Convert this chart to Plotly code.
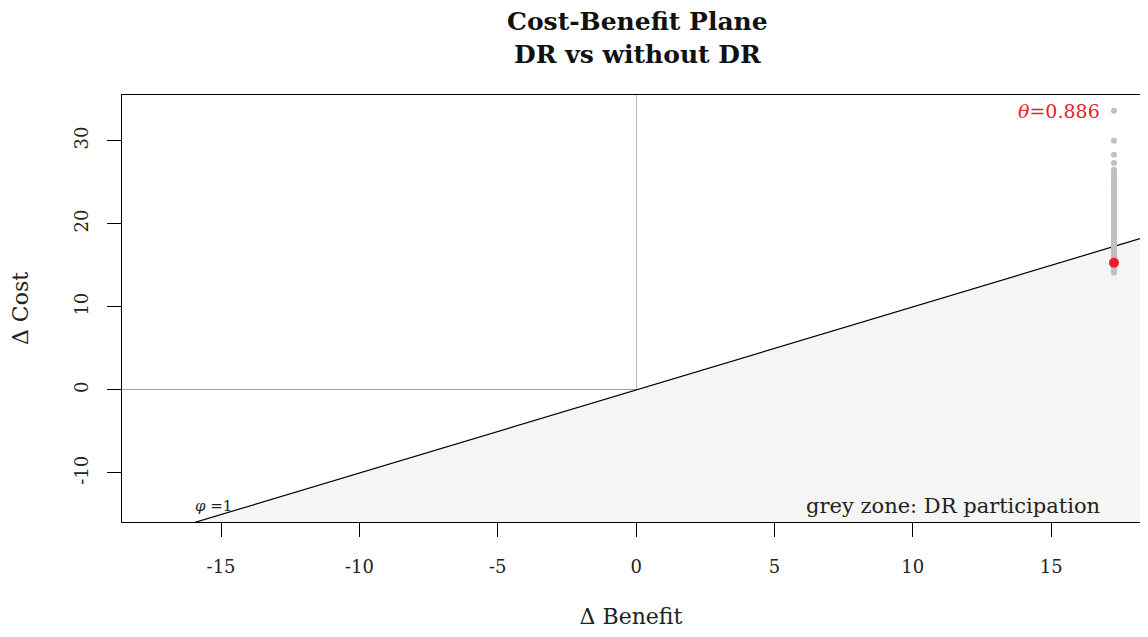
import plotly.graph_objects as go

# incremental benefit / cost draws (DR vs without DR)
d_benefit = 17.27
d_cost = [33.6, 30.0, 28.3, 27.3, 26.5, 26.2, 25.9, 25.6, 25.4, 25.1, 24.9, 24.6,
          24.4, 24.2, 23.9, 23.7, 23.5, 23.3, 23.1, 22.9, 22.7, 22.5, 22.3, 22.1,
          21.9, 21.7, 21.5, 21.3, 21.1, 20.9, 20.7, 20.5, 20.3, 20.1, 19.9, 19.7,
          19.5, 19.3, 19.1, 18.9, 18.7, 18.5, 18.3, 18.1, 17.9, 17.7, 17.5, 17.3,
          17.1, 16.9, 16.7, 16.5, 16.3, 16.1, 15.9, 15.7, 15.5, 15.3, 15.1, 14.9,
          14.7, 14.5, 14.3, 14.1, 16.0, 16.4, 16.8, 17.2, 17.6, 18.0, 18.4, 15.6,
          15.2, 14.8, 14.4, 19.0, 19.6, 20.2, 20.8, 21.4, 22.0, 22.6, 23.4, 24.0]
mean_benefit = 17.27
mean_cost = 15.3
theta = 0.886
phi = 1

xr = [-18.58, 18.21]
yr = [-15.9, 35.5]

SERIF = "DejaVu Serif"
RED = "#e8202a"

fig = go.Figure()

# grey zone below the threshold line
x_cut = yr[0] / phi
fig.add_trace(go.Scatter(
    x=[x_cut, xr[1], xr[1]], y=[yr[0], phi * xr[1], yr[0]],
    fill="toself", fillcolor="#f5f5f3", line=dict(width=0),
    mode="lines", hoverinfo="skip", showlegend=False))

fig.add_trace(go.Scatter(
    x=xr, y=[phi * v for v in xr], mode="lines",
    line=dict(color="black", width=1.2), showlegend=False))

fig.add_trace(go.Scatter(
    x=[d_benefit] * len(d_cost), y=d_cost, mode="markers",
    marker=dict(color="#c0c0c0", size=6), showlegend=False))

fig.add_trace(go.Scatter(
    x=[mean_benefit], y=[mean_cost], mode="markers",
    marker=dict(color=RED, size=10), showlegend=False))

fig.add_annotation(x=d_benefit - 0.45, y=max(d_cost), text="<i>θ</i>=" + f"{theta:.3f}",
                   showarrow=False, xanchor="right", yanchor="middle",
                   font=dict(family=SERIF, size=19, color=RED))
fig.add_annotation(x=-16.0, y=yr[0] + 0.6, text="<i>φ</i> =1", showarrow=False,
                   xanchor="left", yanchor="bottom",
                   font=dict(family=SERIF, size=15, color="#222"))
fig.add_annotation(x=16.84, y=yr[0] + 0.3, text="grey zone: DR participation",
                   showarrow=False, xanchor="right", yanchor="bottom",
                   font=dict(family=SERIF, size=21, color="#222"))

# two-line bold title
for txt, yy in [("Cost-Benefit Plane", 1.171), ("DR vs without DR", 1.096)]:
    fig.add_annotation(x=0.05, xref="x", y=yy, yref="paper", text="<b>" + txt + "</b>",
                       showarrow=False, xanchor="center", yanchor="middle",
                       font=dict(family=SERIF, size=25, color="#111"))

fig.update_layout(
    width=1132, height=621,
    margin=dict(l=114, r=0, t=87, b=107, autoexpand=False),
    plot_bgcolor="white", paper_bgcolor="white",
    font=dict(family=SERIF, size=18, color="#222"),
)
fig.update_xaxes(range=xr, tickvals=[-15, -10, -5, 0, 5, 10, 15],
                 ticktext=["-15", "-10", "-5", "0", "5", "10", "15"],
                 showgrid=False, zeroline=True, zerolinecolor="#bcbcbc", zerolinewidth=1,
                 showline=True, linecolor="black", linewidth=1, mirror=True,
                 ticks="outside", ticklen=14, tickcolor="black",
                 ticklabelstandoff=14, automargin=False,
                 title=dict(text="Δ Benefit", standoff=36))
fig.update_yaxes(range=yr, tickvals=[-10, 0, 10, 20, 30],
                 ticktext=["-10", "0", "10", "20", "30"], tickangle=-90,
                 showgrid=False, zeroline=True, zerolinecolor="#a0a0a0", zerolinewidth=1,
                 showline=True, linecolor="black", linewidth=1,
                 ticks="outside", ticklen=14, tickcolor="black",
                 ticklabelstandoff=12, automargin=False,
                 title=dict(text="Δ Cost", standoff=39))

fig.write_html("out.html")
